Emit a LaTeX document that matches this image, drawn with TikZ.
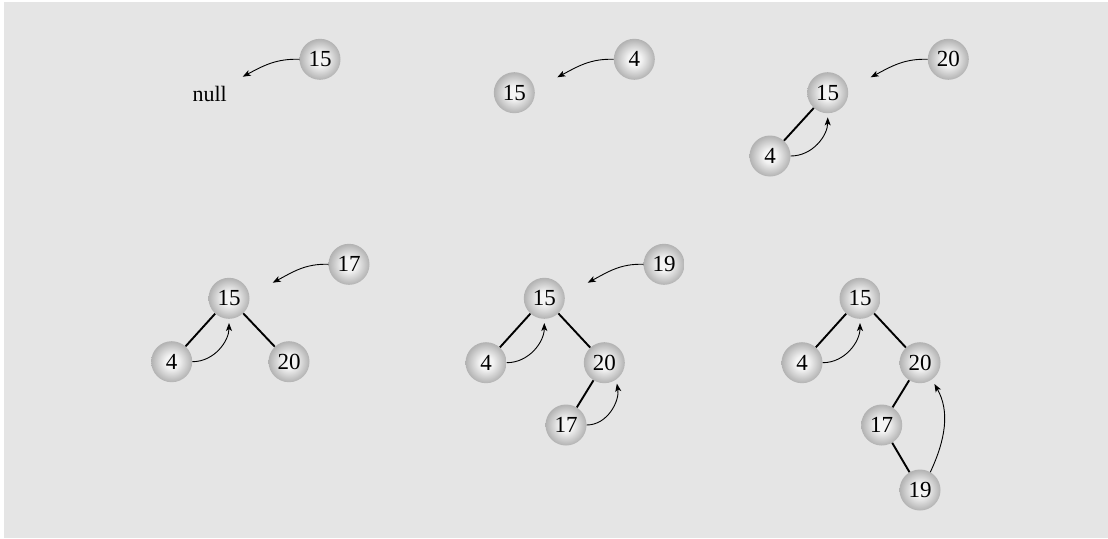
\documentclass[tikz,border=0pt]{standalone}
\usepackage{fontspec}
\setmainfont{Liberation Serif}
\usetikzlibrary{arrows.meta,calc}
\definecolor{bggray}{RGB}{229,229,229}
\definecolor{balllight}{RGB}{244,244,244}
\definecolor{balldark}{RGB}{178,178,178}
\pgfdeclareradialshading{graybal}{\pgfpoint{0bp}{0bp}}{color(0bp)=(balllight); color(8bp)=(balllight); color(25bp)=(balldark); color(50bp)=(balldark)}
\tikzset{
  key/.style={circle, minimum size=41pt, inner sep=0pt, shading=graybal, font=\fontsize{23}{26}\selectfont},
  edge/.style={line width=1.9pt},
  ptr/.style={line width=0.9pt, -{Stealth[length=8pt,width=6pt,inset=2pt]}},
  lbl/.style={font=\fontsize{22}{26}\selectfont, inner sep=0pt}
}
\begin{document}
\begin{tikzpicture}[x=1pt,y=-1pt]
\useasboundingbox (0,0) rectangle (1108,538);
\fill[bggray] (4,2) rectangle (1108,538);
% Panel 1
\node[key] (a15) at (320,59.3) {15};
\node[lbl, anchor=base] (anull) at (209.7,101) {null};
\coordinate (at) at (242.7,76.7);
\draw[ptr] (a15.west) to[out=178,in=28] (at);
% Panel 2
\node[key] (b4) at (634.3,59.3) {4};
\node[key] (b15) at (514.3,92.7) {15};
\coordinate (bt) at (557.3,77.3);
\draw[ptr] (b4.west) to[out=178,in=28] (bt);
% Panel 3
\node[key] (c20) at (948.3,59.3) {20};
\node[key] (c15) at (827.7,92.7) {15};
\node[key] (c4) at (770,156) {4};
\coordinate (ct) at (870.7,77.3);
\draw[edge] (c15) -- (c4);
\draw[ptr] (c20.west) to[out=178,in=28] (ct);
\draw[ptr, shorten >=4pt] (c4.east) to[out=0,in=-90] (c15.south);
% Panel 4
\node[key] (d17) at (349,264.3) {17};
\node[key] (d15) at (229,298.3) {15};
\node[key] (d4) at (171.7,361.7) {4};
\node[key] (d20) at (289,361.7) {20};
\coordinate (dt) at (272.7,282.7);
\draw[edge] (d15) -- (d4);
\draw[edge] (d15) -- (d20);
\draw[ptr] (d17.west) to[out=178,in=28] (dt);
\draw[ptr, shorten >=4pt] (d4.east) to[out=0,in=-90] (d15.south);
% Panel 5
\node[key] (e19) at (664,264.3) {19};
\node[key] (e15) at (544.3,298.3) {15};
\node[key] (e4) at (486,362.7) {4};
\node[key] (e20) at (604.3,362.7) {20};
\node[key] (e17) at (566,425) {17};
\coordinate (et) at (587.7,282.7);
\draw[edge] (e15) -- (e4);
\draw[edge] (e15) -- (e20);
\draw[edge] (e20) -- (e17);
\draw[ptr] (e19.west) to[out=178,in=28] (et);
\draw[ptr, shorten >=4pt] (e4.east) to[out=0,in=-90] (e15.south);
\draw[ptr, shorten >=4pt] (e17.east) to[out=0,in=-80] (e20.-55);
% Panel 6
\node[key] (f15) at (860,298.3) {15};
\node[key] (f4) at (802,362.7) {4};
\node[key] (f20) at (920,362.7) {20};
\node[key] (f17) at (881.7,425) {17};
\node[key] (f19) at (920,490) {19};
\draw[edge] (f15) -- (f4);
\draw[edge] (f15) -- (f20);
\draw[edge] (f20) -- (f17);
\draw[edge] (f17) -- (f19);
\draw[ptr, shorten >=4pt] (f4.east) to[out=0,in=-90] (f15.south);
\draw[ptr, shorten >=5pt] (f19.60) to[out=65,in=-60] (f20.-55);
\end{tikzpicture}
\end{document}
